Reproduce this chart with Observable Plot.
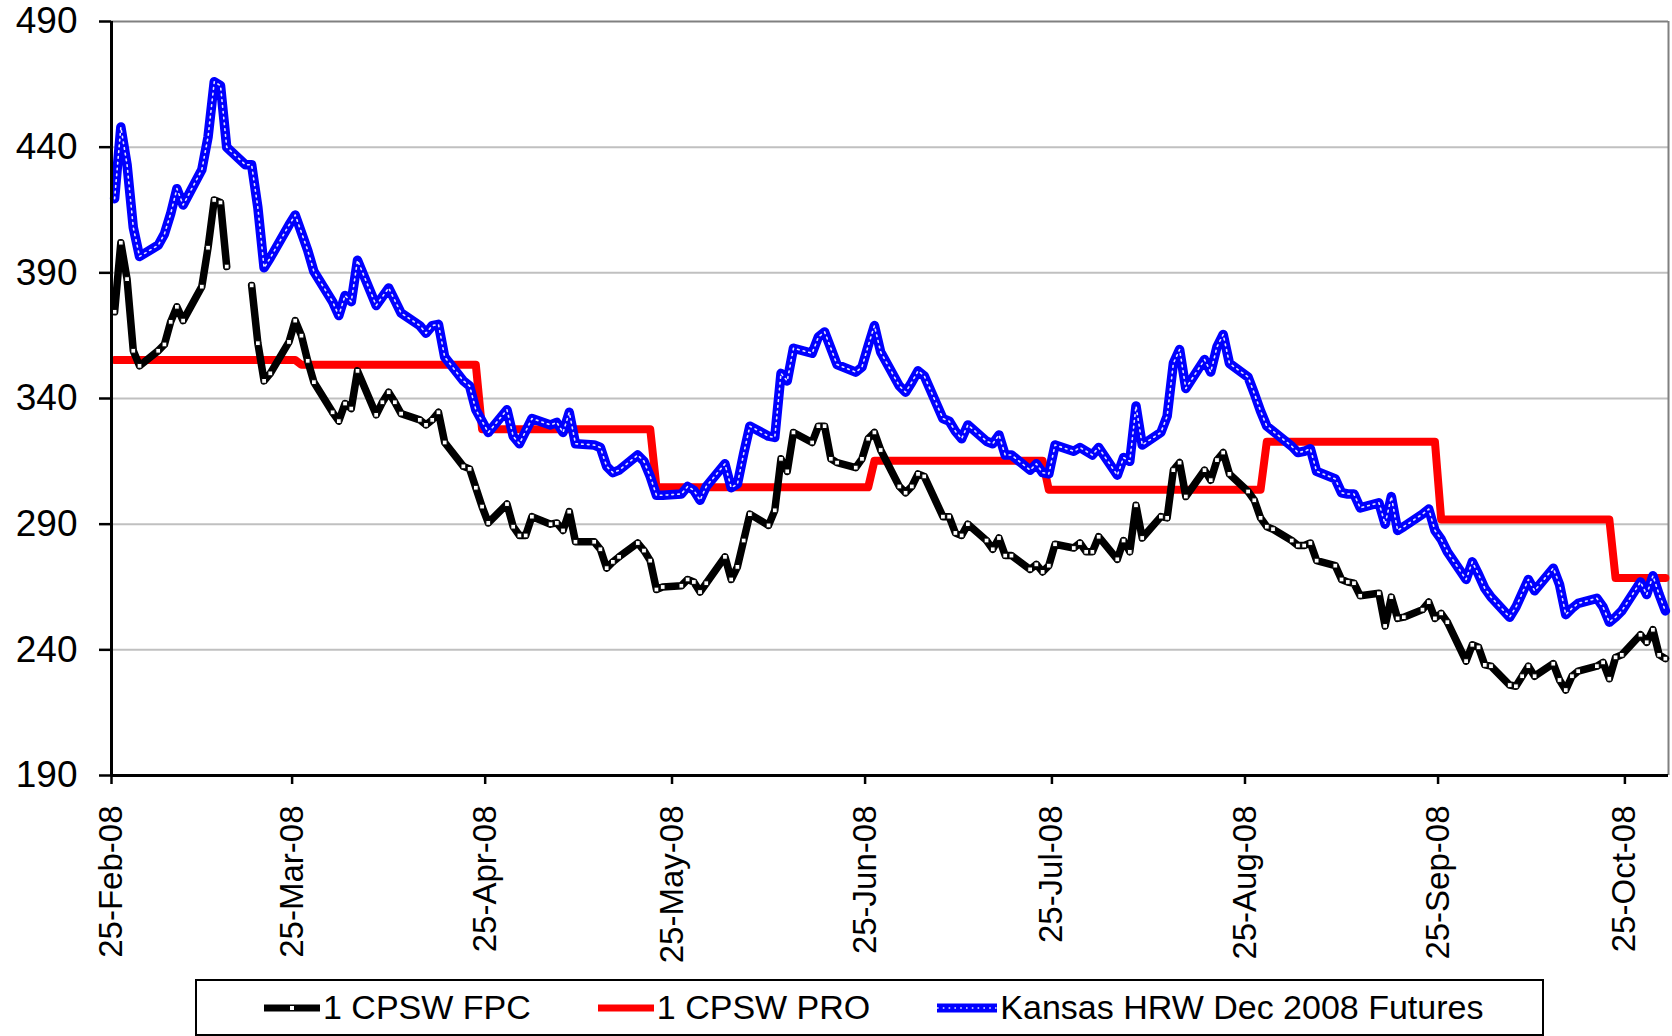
<!DOCTYPE html>
<html><head><meta charset="utf-8">
<script src="https://cdn.jsdelivr.net/npm/d3@7"></script>
<script src="https://cdn.jsdelivr.net/npm/@observablehq/plot@0.6"></script>
<style>
html,body{margin:0;padding:0;background:#fff;}
body{width:1672px;height:1036px;overflow:hidden;font-family:"Liberation Sans",Arial,sans-serif;}
#chart svg{display:block;}
#legend{position:relative;margin-left:195px;margin-top:3px;width:1349px;height:57px;box-sizing:border-box;border:2px solid #000;display:flex;align-items:center;padding-left:67px;font-size:34px;color:#000;white-space:nowrap;}
.item{display:flex;align-items:center;margin-right:67px;}
.item svg{margin-right:3px;display:block;}
</style></head><body>
<div id="chart"></div>
<div id="legend"></div>
<script>
// Monday of each week (values are Mon..Fri)
const weeks = ["2008-02-25","2008-03-03","2008-03-10","2008-03-17","2008-03-24","2008-03-31",
  "2008-04-07","2008-04-14","2008-04-21","2008-04-28","2008-05-05","2008-05-12","2008-05-19",
  "2008-05-26","2008-06-02","2008-06-09","2008-06-16","2008-06-23","2008-06-30","2008-07-07",
  "2008-07-14","2008-07-21","2008-07-28","2008-08-04","2008-08-11","2008-08-18","2008-08-25",
  "2008-09-01","2008-09-08","2008-09-15","2008-09-22","2008-09-29","2008-10-06","2008-10-13",
  "2008-10-20","2008-10-27"];

const seriesNames = ["1 CPSW FPC", "1 CPSW PRO", "Kansas HRW Dec 2008 Futures"];

const fpc = [
  [374.5,402,387.5,359,353],[359,361.5,370.5,376.5,371],[384.5,400,419,418,392.5],
  [null,385,362,347,350],[362.5,371,365,355,346.5],[334.5,331,338,336,351],
  [333.5,338.5,342.5,338.5,334],[331.5,329.5,331.5,334.5,322.5],[313,312,304.5,297,290.5],
  [298,289,285.5,285.5,293],[290,290.5,287.5,295,283],[283,280,272.5,275,277],
  [282.5,279.5,275.5,264,265],[265.5,268,267,263,266.5],[277,268,273,283.5,294],
  [289.5,295.5,316,311,326.5],[322.5,329,329,316,314.5],[312.5,316,324,326.5,319.5],
  [305,302.5,305,310,309],[293,293,286.5,285.5,290],[283.5,280,284.5,277.5,277.5],
  [272,274,271,273.5,282],[280.5,282.5,279,279,285],[276,283.5,279,297.5,284.5],
  [293,292.5,311.5,314.5,301],[311.5,307.5,315.5,318.5,310],[303,299.5,292.5,289,288],
  [283.5,281.5,281.5,282.5,275.5],[273.5,268,267,266.5,261.5],[262.5,249.5,261,252.5,253],
  [256,259,252.5,254.5,251],[235.5,242,241,234,233.5],[226,225.5,229.5,233.5,229.5],
  [234.5,228,224,229.5,231.5],[233.5,235,228.5,237,238],[246,243,248,238,236.5]
];

const pro = [
  [355.3,355.3,355.3,355.3,355.3],[355.3,355.3,355.3,355.3,355.3],[355.3,355.3,355.3,355.3,355.3],
  [355.3,355.3,355.3,355.3,355.3],[355.3,355.3,353.4,353.4,353.4],[353.4,353.4,353.4,353.4,353.4],
  [353.4,353.4,353.4,353.4,353.4],[353.4,353.4,353.4,353.4,353.4],[353.4,353.4,353.4,327.8,327.8],
  [327.8,327.8,327.8,327.8,327.8],[327.8,327.8,327.8,327.8,327.8],[327.8,327.8,327.8,327.8,327.8],
  [327.8,327.8,327.8,304.7,304.7],[304.7,304.7,304.7,304.7,304.7],[304.7,304.7,304.7,304.7,304.7],
  [304.7,304.7,304.7,304.7,304.7],[304.7,304.7,304.7,304.7,304.7],[304.7,304.7,304.7,315.2,315.2],
  [315.2,315.2,315.2,315.2,315.2],[315.2,315.2,315.2,315.2,315.2],[315.2,315.2,315.2,315.2,315.2],
  [315.2,315.2,315.2,303.7,303.7],[303.7,303.7,303.7,303.7,303.7],[303.7,303.7,303.7,303.7,303.7],
  [303.7,303.7,303.7,303.7,303.7],[303.7,303.7,303.7,303.7,303.7],[303.7,303.7,303.7,322.8,322.8],
  [322.8,322.8,322.8,322.8,322.8],[322.8,322.8,322.8,322.8,322.8],[322.8,322.8,322.8,322.8,322.8],
  [322.8,322.8,322.8,291.9,291.9],[291.9,291.9,291.9,291.9,291.9],[291.9,291.9,291.9,291.9,291.9],
  [291.9,291.9,291.9,291.9,291.9],[291.9,291.9,291.9,268.6,268.6],[268.6,268.6,268.6,268.6,268.6]
];

const kansas = [
  [419.5,448,433,408,396.5],[401,405.5,413.5,423.5,417],[431,444,466,464.5,440],
  [433,433,416,392,396],[409,413,406,399,390.5],[378.5,373,381,378.5,395],
  [377,380.5,384,379,374],[369,366,369,369.5,356.5],[347,345,335.5,331,326.5],
  [335.5,325,322,327,332],[329.5,330.5,326.5,334.5,322],[321.5,320.5,313,310.5,311.5],
  [317.5,315,309,301.5,301.5],[302,305,303.5,299.5,305],[314,304.5,306,318,329],
  [325,324.5,350,347,360],[358,364.5,366.5,360,353.5],[350.5,352.5,361,369,358.5],
  [345,342.5,346.5,351,349],[332,331,327,324,329.5],[323,322,325.5,317.5,317.5],
  [311.5,314,310.5,310,321.5],[319,320.5,319,317.5,320.5],[309.5,316.5,315,337,321.5],
  [326.5,333,354,359.5,344],[355.5,350.5,360.5,365.5,354],[348.5,342,335,329,327],
  [321,318.5,319,320,311],[308,302.5,302,302,296.5],[298.5,290,301,287.5,289],
  [294,296,287.5,284,279],[268,275,270,264.5,261],[253,257,262.5,268,263.5],
  [272.5,266,254,256.5,258.5],[260.5,257,251,253,255.5],[267,262,269.5,262,255.5]
];

const yTicks = [190, 240, 290, 340, 390, 440, 490];
const xTicks = ["2008-02-25","2008-03-25","2008-04-25","2008-05-25","2008-06-25",
  "2008-07-25","2008-08-25","2008-09-25","2008-10-25"];
const xTickLabels = ["25-Feb-08","25-Mar-08","25-Apr-08","25-May-08","25-Jun-08",
  "25-Jul-08","25-Aug-08","25-Sep-08","25-Oct-08"];
const xStart = "2008-02-25", xEnd = "2008-11-01";

// build table: each value sits at the middle of its day
const rows = [];
weeks.forEach((w, i) => {
  const monday = new Date(w + "T12:00:00Z");
  for (let k = 0; k < 5; k++) {
    rows.push({
      date: new Date(+monday + k * 864e5),
      fpc: fpc[i][k], pro: pro[i][k], kansas: kansas[i][k]
    });
  }
});

const x0 = new Date(xStart + "T00:00:00Z"), x1 = new Date(xEnd + "T00:00:00Z");
const tickDates = xTicks.map(s => new Date(s + "T00:00:00Z"));
const font = '"Liberation Sans", Arial, sans-serif';

const chart = Plot.plot({
  width: 1672, height: 976,
  marginLeft: 111, marginRight: 4, marginTop: 21, marginBottom: 201,
  style: {fontFamily: font, color: "#000", background: "#fff", overflow: "visible"},
  x: {type: "utc", domain: [x0, x1]},
  y: {domain: [190, 490]},
  marks: [
    Plot.gridY({ticks: yTicks.filter(v => v > 190 && v < 490), stroke: "#c0c0c0", strokeOpacity: 1, strokeWidth: 2}),
    Plot.ruleY([490], {stroke: "#808080", strokeWidth: 2}),
    Plot.ruleX([x1], {stroke: "#808080", strokeWidth: 2}),
    Plot.line(rows, {x: "date", y: "pro", stroke: "#ff0000", strokeWidth: 8, strokeLinejoin: "round"}),
    Plot.line(rows, {x: "date", y: "fpc", stroke: "#000", strokeWidth: 7.5, strokeLinejoin: "round"}),
    Plot.dot(rows.filter(d => d.fpc != null), {x: "date", y: "fpc", symbol: "square", r: 2.7, fill: "#fff", stroke: "#000", strokeWidth: 1}),
    Plot.line(rows, {x: "date", y: "kansas", stroke: "#0000ff", strokeWidth: 9.5, strokeLinejoin: "round"}),
    Plot.line(rows, {x: "date", y: "kansas", stroke: "#fff", strokeWidth: 1.6, strokeDasharray: "1.6 4.2", strokeOpacity: 0.9}),
    Plot.ruleX([x0], {stroke: "#000", strokeWidth: 3}),
    Plot.ruleY([190], {stroke: "#000", strokeWidth: 3}),
    Plot.axisY({ticks: yTicks, tickSize: 12, tickPadding: 22, fontSize: 37, strokeWidth: 2.5, label: null}),
    Plot.axisX({ticks: tickDates, tickSize: 9, tickPadding: 21, tickRotate: -90, fontSize: 33, strokeWidth: 2.5, label: null,
      tickFormat: d => xTickLabels[tickDates.findIndex(t => +t === +d)]})
  ]
});
document.getElementById("chart").appendChild(chart);

// legend
const legend = document.getElementById("legend");
const samples = [
  `<svg width="56" height="14"><line x1="0" y1="7" x2="56" y2="7" stroke="#000" stroke-width="7"/><rect x="25.5" y="4.5" width="5" height="5" fill="#fff" stroke="#000" stroke-width="1"/></svg>`,
  `<svg width="56" height="14"><line x1="0" y1="7" x2="56" y2="7" stroke="#ff0000" stroke-width="7"/></svg>`,
  `<svg width="60" height="14"><line x1="0" y1="7" x2="60" y2="7" stroke="#0000ff" stroke-width="9"/><line x1="0" y1="7" x2="60" y2="7" stroke="#fff" stroke-width="1.6" stroke-dasharray="1.6 4.2" stroke-opacity="0.9"/></svg>`
];
seriesNames.forEach((name, i) => {
  const item = document.createElement("div");
  item.className = "item";
  item.innerHTML = samples[i] + `<span>${name}</span>`;
  legend.appendChild(item);
});
</script>
</body></html>
